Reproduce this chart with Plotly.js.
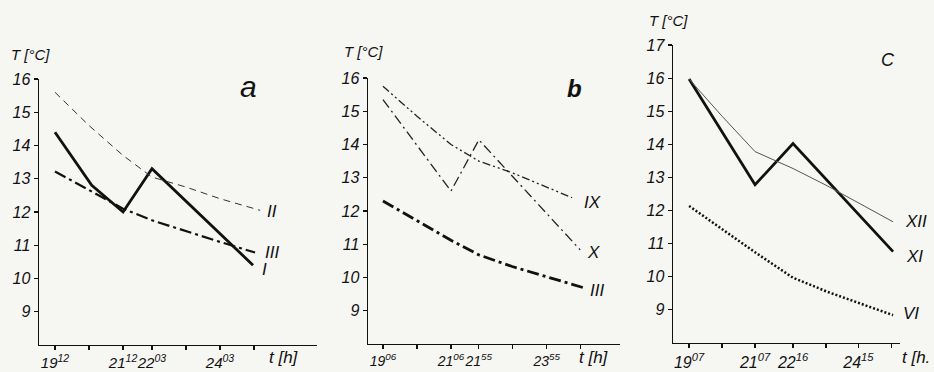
<!DOCTYPE html>
<html>
<head>
<meta charset="utf-8">
<script src="https://cdn.plot.ly/plotly-3.0.1.min.js"></script>
<style>html,body{margin:0;padding:0;background:#f6f6f3;}#chart{width:934px;height:372px;}</style>
</head>
<body>
<div id="chart"></div>
<script>
// ---------- DATA (time in decimal hours, temperature in °C) ----------
// Panel a
const tA_I   = [19.2, 20.28, 21.2, 22.05, 25.02];
const vA_I   = [14.4, 12.8, 12.0, 13.3, 10.4];
const tA_II  = [19.2, 20.2, 21.2, 22.05, 23.05, 24.05, 25.23];
const vA_II  = [15.6, 14.6, 13.7, 13.05, 12.75, 12.4, 12.05];
const tA_III = [19.2, 20.2, 21.2, 22.05, 23.05, 24.05, 25.08];
const vA_III = [13.22, 12.65, 12.1, 11.75, 11.42, 11.1, 10.78];
// Panel b
const tB_IX  = [19.1, 20.1, 21.1, 21.92, 22.9, 24.66];
const vB_IX  = [15.75, 14.85, 14.0, 13.5, 13.15, 12.4];
const tB_X   = [19.1, 21.1, 21.92, 24.9];
const vB_X   = [15.35, 12.6, 14.14, 10.83];
const tB_III = [19.1, 20.1, 21.1, 21.92, 22.9, 25.04];
const vB_III = [12.3, 11.72, 11.12, 10.68, 10.33, 9.68];
// Panel c
const tC_XI  = [19.117, 21.117, 22.267, 25.3];
const vC_XI  = [15.97, 12.78, 14.02, 10.76];
const tC_XII = [19.117, 20.117, 21.117, 22.267, 23.3, 25.3];
const vC_XII = [15.97, 14.85, 13.78, 13.27, 12.75, 11.66];
const tC_VI  = [19.117, 20.117, 21.117, 22.267, 23.3, 25.3];
const vC_VI  = [12.14, 11.44, 10.74, 9.97, 9.55, 8.84];

// Tick labels (empty string = unlabelled tick)
const tickA = [19.2, 20.2, 21.2, 22.05, 23.05, 24.05, 25.05];
const tickTextA = ['19<sup>12</sup>', '', '21<sup>12</sup>', '22<sup>03</sup>', '', '24<sup>03</sup>', ''];
const tickB = [19.1, 20.1, 21.1, 21.917, 22.917, 23.917, 24.917];
const tickTextB = ['19<sup>06</sup>', '', '21<sup>06</sup>', '21<sup>55</sup>', '', '23<sup>55</sup>', ''];
const tickC = [19.117, 20.117, 21.117, 22.267, 23.267, 24.25, 25.25];
const tickTextC = ['19<sup>07</sup>', '', '21<sup>07</sup>', '22<sup>16</sup>', '', '24<sup>15</sup>', ''];
const yTicksAB = [9, 10, 11, 12, 13, 14, 15, 16];
const yTicksC = [9, 10, 11, 12, 13, 14, 15, 16, 17];

const panelLetters = ['a', 'b', 'C'];
const yTitle = 'T [°C]';
const xTitle = ['t [h]', 't [h]', 't [h.'];

// ---------- STYLE ----------
const W = 934, H = 372;
const FONT = 'Liberation Sans, Arial, sans-serif';
const ink = '#111';
const px = v => v / W;
const py = v => 1 - v / H;

const series = [
  {x: tA_I,   y: vA_I,   name: 'I',   ax: 'x',  ay: 'y',  line: {color: ink, width: 2.8}, lx: 7, ly: -4},
  {x: tA_II,  y: vA_II,  name: 'II',  ax: 'x',  ay: 'y',  line: {color: '#333', width: 1, dash: '7px,5px'}, lx: 5, ly: -1},
  {x: tA_III, y: vA_III, name: 'III', ax: 'x',  ay: 'y',  line: {color: ink, width: 2.2, dash: '12px,4px,3px,4px'}, lx: 8, ly: 0},
  {x: tB_IX,  y: vB_IX,  name: 'IX',  ax: 'x2', ay: 'y2', line: {color: '#222', width: 1.3, dash: '8px,3px,2px,3px,2px,3px'}, lx: 10, ly: -5},
  {x: tB_X,   y: vB_X,   name: 'X',   ax: 'x2', ay: 'y2', line: {color: '#222', width: 1.3, dash: '10px,4px,2px,4px'}, lx: 5, ly: -3},
  {x: tB_III, y: vB_III, name: 'III', ax: 'x2', ay: 'y2', line: {color: ink, width: 2.8, dash: '12px,4px,3px,4px'}, lx: 3, ly: -2},
  {x: tC_XI,  y: vC_XI,  name: 'XI',  ax: 'x3', ay: 'y3', line: {color: ink, width: 2.8}, lx: 11, ly: -5},
  {x: tC_XII, y: vC_XII, name: 'XII', ax: 'x3', ay: 'y3', line: {color: '#555', width: 1}, lx: 10, ly: 0},
  {x: tC_VI,  y: vC_VI,  name: 'VI',  ax: 'x3', ay: 'y3', line: {color: ink, width: 2.5, dash: '2px,2px'}, lx: 8, ly: 2}
];

const traces = series.map(s => ({
  type: 'scatter', mode: 'lines', x: s.x, y: s.y, xaxis: s.ax, yaxis: s.ay,
  line: s.line, hoverinfo: 'skip', showlegend: false
}));

const tf = sz => ({family: FONT, size: sz, color: ink, style: 'italic'});
function xAxis(dom, range, tv, tt, anchor, sz) {
  return {domain: [px(dom[0]), px(dom[1])], range: range, anchor: anchor,
    tickmode: 'array', tickvals: tv, ticktext: tt, ticks: 'outside', ticklen: 4,
    tickangle: 0, automargin: false,
    tickcolor: ink, tickwidth: 1.2, showline: true, linecolor: ink, linewidth: 1.4,
    showgrid: false, zeroline: false, tickfont: tf(sz), fixedrange: true};
}
function yAxis(dom, range, tv, anchor) {
  return {domain: [py(dom[1]), py(dom[0])], range: range, anchor: anchor,
    tickmode: 'array', tickvals: tv, ticks: 'outside', ticklen: 4, automargin: false,
    tickcolor: ink, tickwidth: 1.2, showline: true, linecolor: ink, linewidth: 1.4,
    showgrid: false, zeroline: false, tickfont: tf(16), fixedrange: true};
}

const annotations = [];
series.forEach(s => {
  annotations.push({xref: s.ax, yref: s.ay, x: s.x[s.x.length - 1], y: s.y[s.y.length - 1],
    text: s.name, showarrow: false, xanchor: 'left', yanchor: 'middle',
    xshift: s.lx, yshift: s.ly, font: tf(17)});
});
// panel letters
[[248, 86, 30, 'normal'], [574, 88, 24, 'bold'], [888, 60, 18, 'normal']].forEach((p, i) => {
  annotations.push({xref: 'paper', yref: 'paper', x: px(p[0]), y: py(p[1]), text: panelLetters[i],
    showarrow: false, xanchor: 'center', yanchor: 'middle',
    font: {family: FONT, size: p[2], color: ink, style: 'italic', weight: p[3]}});
});
// y titles
[[30, 55], [363, 52], [668, 21]].forEach(p => {
  annotations.push({xref: 'paper', yref: 'paper', x: px(p[0]), y: py(p[1]), text: yTitle,
    showarrow: false, xanchor: 'center', yanchor: 'middle', font: tf(15)});
});
// x titles
[[284, 357], [594, 357], [916, 357]].forEach((p, i) => {
  annotations.push({xref: 'paper', yref: 'paper', x: px(p[0]), y: py(p[1]), text: xTitle[i],
    showarrow: false, xanchor: 'center', yanchor: 'middle', font: tf(17)});
});

const layout = {
  width: W, height: H, margin: {l: 0, r: 0, t: 0, b: 0},
  paper_bgcolor: '#f6f6f3', plot_bgcolor: '#f6f6f3', showlegend: false,
  xaxis:  xAxis([39, 317], [18.73, 26.9], tickA, tickTextA, 'y', 15),
  yaxis:  yAxis([79, 345], [8, 16], yTicksAB, 'x'),
  xaxis2: xAxis([368, 620], [18.66, 26.07], tickB, tickTextB, 'y2', 14),
  yaxis2: yAxis([78, 344], [8, 16], yTicksAB, 'x2'),
  xaxis3: xAxis([673, 900], [18.63, 25.51], tickC, tickTextC, 'y3', 16),
  yaxis3: yAxis([45, 343], [8, 17], yTicksC, 'x3'),
  annotations: annotations
};

Plotly.newPlot('chart', traces, layout, {displayModeBar: false, staticPlot: true});
</script>
</body>
</html>
